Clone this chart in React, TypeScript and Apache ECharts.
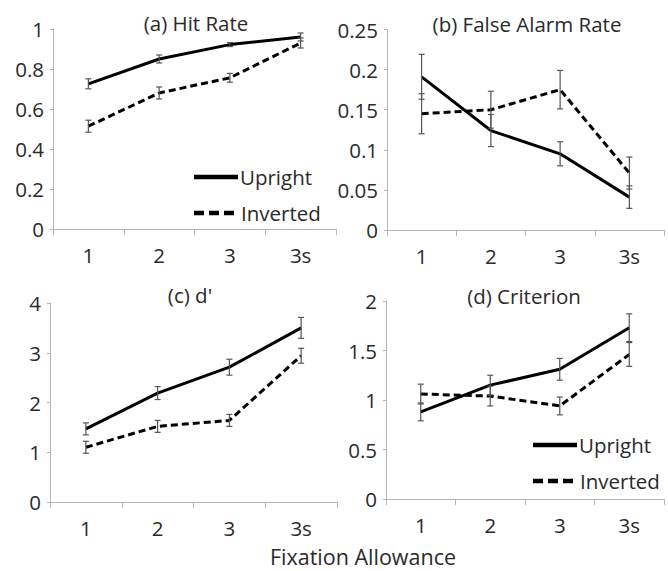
import React, { useEffect, useRef } from "react";
import * as echarts from "echarts";

const categories = ["1", "2", "3", "3s"];

// (a) Hit Rate
const hitUpright = [0.726, 0.85, 0.922, 0.96];
const hitUprightErr = [0.025, 0.02, 0.01, 0.02];
const hitInverted = [0.514, 0.68, 0.756, 0.93];
const hitInvertedErr = [0.03, 0.03, 0.022, 0.025];

// (b) False Alarm Rate
const faUpright = [0.191, 0.124, 0.095, 0.041];
const faUprightErr = [0.028, 0.02, 0.015, 0.014];
const faInverted = [0.145, 0.15, 0.175, 0.071];
const faInvertedErr = [0.025, 0.023, 0.024, 0.02];

// (c) d'
const dUpright = [1.47, 2.19, 2.71, 3.5];
const dUprightErr = [0.12, 0.13, 0.16, 0.21];
const dInverted = [1.1, 1.52, 1.64, 2.94];
const dInvertedErr = [0.12, 0.12, 0.12, 0.15];

// (d) Criterion
const cUpright = [0.88, 1.15, 1.31, 1.73];
const cUprightErr = [0.09, 0.1, 0.11, 0.14];
const cInverted = [1.06, 1.04, 0.94, 1.46];
const cInvertedErr = [0.1, 0.1, 0.09, 0.12];

const panelTitles = ["(a) Hit Rate", "(b) False Alarm Rate", "(c) d'", "(d) Criterion"];
const yMax = [1, 0.25, 4, 2];
const yInterval = [0.2, 0.05, 1, 0.5];
const legendNames = ["Upright", "Inverted"];
const xAxisTitle = "Fixation Allowance";

const FONT = "'Open Sans', 'Noto Sans', sans-serif";
const FS = 20.5;
const AXIS_COLOR = "#b5b5b5";
const TEXT_COLOR = "#2a2a2a";
const ERR_COLOR = "#555";

const panels = [
  { up: hitUpright, upE: hitUprightErr, inv: hitInverted, invE: hitInvertedErr },
  { up: faUpright, upE: faUprightErr, inv: faInverted, invE: faInvertedErr },
  { up: dUpright, upE: dUprightErr, inv: dInverted, invE: dInvertedErr },
  { up: cUpright, upE: cUprightErr, inv: cInverted, invE: cInvertedErr },
];

const grids = [
  { left: 53, top: 29, width: 283, height: 200 },
  { left: 387, top: 29.5, width: 277, height: 200.5 },
  { left: 50, top: 303, width: 287, height: 199 },
  { left: 386, top: 301, width: 278, height: 198 },
];

function errRender(params: any, api: any) {
  const x = api.value(0);
  const y = api.value(1);
  const e = api.value(2);
  const top = api.coord([x, y + e]);
  const bot = api.coord([x, y - e]);
  const cap = 3;
  const style = { stroke: ERR_COLOR, lineWidth: 1.2 };
  return {
    type: "group",
    children: [
      { type: "line", shape: { x1: top[0], y1: top[1], x2: bot[0], y2: bot[1] }, style },
      { type: "line", shape: { x1: top[0] - cap, y1: top[1], x2: top[0] + cap, y2: top[1] }, style },
      { type: "line", shape: { x1: bot[0] - cap, y1: bot[1], x2: bot[0] + cap, y2: bot[1] }, style },
    ],
  };
}

export default function App() {
  const ref = useRef<HTMLDivElement>(null);
  useEffect(() => {
    document.body.style.margin = "0";
    const chart = echarts.init(ref.current!, null, { renderer: "svg" });

    const series: any[] = [];
    panels.forEach((p, i) => {
      series.push({
        type: "line",
        name: legendNames[0],
        xAxisIndex: i,
        yAxisIndex: i,
        data: p.up,
        symbol: "none",
        lineStyle: { color: "#000", width: 3 },
        z: 3,
      });
      series.push({
        type: "line",
        name: legendNames[1],
        xAxisIndex: i,
        yAxisIndex: i,
        data: p.inv,
        symbol: "none",
        lineStyle: { color: "#000", width: 3, type: [7, 4] },
        z: 3,
      });
      series.push({
        type: "custom",
        xAxisIndex: i,
        yAxisIndex: i,
        renderItem: errRender,
        data: p.up.map((v, k) => [k, v, p.upE[k]]),
        z: 4,
      });
      series.push({
        type: "custom",
        xAxisIndex: i,
        yAxisIndex: i,
        renderItem: errRender,
        data: p.inv.map((v, k) => [k, v, p.invE[k]]),
        z: 4,
      });
    });

    const xAxis = grids.map((_, i) => ({
      type: "category",
      gridIndex: i,
      data: categories,
      boundaryGap: true,
      axisLine: { lineStyle: { color: AXIS_COLOR, width: 1 } },
      axisTick: { show: true, length: 6, lineStyle: { color: AXIS_COLOR } },
      axisLabel: { color: TEXT_COLOR, fontSize: FS, fontFamily: FONT, margin: 15 },
      splitLine: { show: false },
    }));

    const yAxis = grids.map((_, i) => ({
      type: "value",
      gridIndex: i,
      min: 0,
      max: yMax[i],
      interval: yInterval[i],
      axisLine: { show: true, lineStyle: { color: AXIS_COLOR, width: 1 } },
      axisTick: { show: true, length: 3, lineStyle: { color: AXIS_COLOR } },
      axisLabel: { color: TEXT_COLOR, fontSize: FS, fontFamily: FONT, margin: 9 },
      splitLine: { show: false },
    }));

    const titlePos = [
      [196, 23],
      [527, 24],
      [190, 295],
      [524, 296],
    ];
    const graphic: any[] = panelTitles.map((t, i) => ({
      type: "text",
      x: titlePos[i][0],
      y: titlePos[i][1],
      style: {
        text: t,
        fill: TEXT_COLOR,
        font: `${FS}px ${FONT}`,
        textAlign: "center",
        textVerticalAlign: "middle",
      },
    }));

    const legends = [
      { x: 194, y1: 177, y2: 213 },
      { x: 533, y1: 445, y2: 481 },
    ];
    legends.forEach((l) => {
      graphic.push({
        type: "line",
        shape: { x1: l.x, y1: l.y1, x2: l.x + 44, y2: l.y1 },
        style: { stroke: "#000", lineWidth: 4.5 },
      });
      graphic.push({
        type: "line",
        shape: { x1: l.x, y1: l.y2, x2: l.x + 44, y2: l.y2 },
        style: { stroke: "#000", lineWidth: 4.5, lineDash: [10, 5] },
      });
      graphic.push({
        type: "text",
        x: l.x + 46,
        y: l.y1,
        style: { text: legendNames[0], fill: TEXT_COLOR, font: `${FS}px ${FONT}`, textVerticalAlign: "middle" },
      });
      graphic.push({
        type: "text",
        x: l.x + 47,
        y: l.y2,
        style: { text: legendNames[1], fill: TEXT_COLOR, font: `${FS}px ${FONT}`, textVerticalAlign: "middle" },
      });
    });
    graphic.push({
      type: "text",
      x: 363,
      y: 556,
      style: {
        text: xAxisTitle,
        fill: TEXT_COLOR,
        font: `21.5px ${FONT}`,
        textAlign: "center",
        textVerticalAlign: "middle",
      },
    });

    chart.setOption({
      animation: false,
      backgroundColor: "#fff",
      grid: grids,
      xAxis,
      yAxis,
      series,
      graphic,
    });
    return () => chart.dispose();
  }, []);
  return <div ref={ref} style={{ width: 668, height: 571 }} />;
}
